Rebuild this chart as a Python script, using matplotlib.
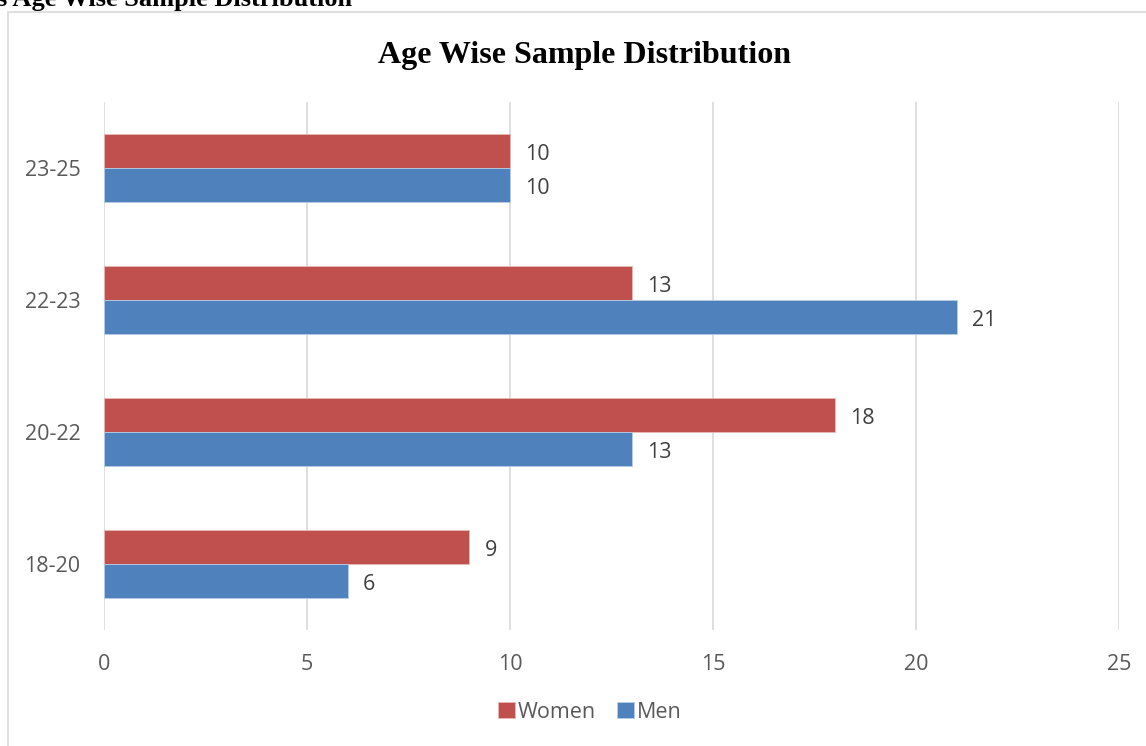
import numpy as np
import matplotlib.pyplot as plt
from matplotlib.patches import Rectangle

# Data
age_groups = ['18-20', '20-22', '22-23', '23-25']
women = [9, 18, 13, 10]
men = [6, 13, 21, 10]

RED = '#C0504D'
BLUE = '#4F81BD'
GRID = '#D9D9D9'
TXT = '#595959'

W, H = 1146, 746
fig = plt.figure(figsize=(W / 100, H / 100), dpi=100)
fig.patch.set_facecolor('white')

# chart frame (left + top border only visible)
fig.add_artist(Rectangle((8 / W, -0.1), 1.2, (H - 12) / H + 0.1, transform=fig.transFigure,
                         fill=False, edgecolor='#D9D9D9', linewidth=1.2))

# cut-off caption at the very top
fig.text(-3 / W, 1 - 6 / H, 's Age Wise Sample Distribution', ha='left', va='baseline',
         fontsize=19, fontweight='bold', family='Liberation Serif', color='black')

ax = fig.add_axes([104 / W, (H - 630) / H, (1119 - 104) / W, (630 - 102) / H])

y = np.arange(len(age_groups))
h = 0.26
b_w = ax.barh(y + h / 2, women, height=h, color=RED, edgecolor='#E6B9B8', linewidth=0.6, label='Women', zorder=3)
b_m = ax.barh(y - h / 2, men, height=h, color=BLUE, edgecolor='#B9CDE5', linewidth=0.6, label='Men', zorder=3)

for bars, vals in ((b_w, women), (b_m, men)):
    for rect, v in zip(bars, vals):
        ax.text(v + 0.38, rect.get_y() + rect.get_height() / 2 - 0.025, str(v), ha='left', va='center',
                fontsize=15.5, family='Open Sans', color='#404040')

ax.set_xlim(0, 25)
ax.set_ylim(-0.5, 3.5)
ax.set_xticks(range(0, 26, 5))
ax.set_yticks(y)
ax.set_yticklabels(age_groups)
ax.xaxis.grid(True, color=GRID, linewidth=1.2, zorder=0)
ax.yaxis.grid(False)
for s in ax.spines.values():
    s.set_visible(False)
ax.tick_params(axis='both', length=0, labelsize=15.5, labelcolor=TXT)
ax.tick_params(axis='x', pad=17)
ax.tick_params(axis='y', pad=17)
for lbl in ax.get_xticklabels() + ax.get_yticklabels():
    lbl.set_family('Open Sans')

fig.text(584 / W, 1 - 55 / H, 'Age Wise Sample Distribution', ha='center', va='center',
         fontsize=23, fontweight='bold', family='Liberation Serif', color='black')

leg = fig.legend(handles=[b_w, b_m], labels=['Women', 'Men'], loc='center',
                 bbox_to_anchor=(590 / W, 1 - 712 / H), ncol=2, frameon=False,
                 prop={'family': 'Open Sans', 'size': 15.5}, handlelength=0.75, handleheight=0.75,
                 handletextpad=0.15, columnspacing=1.0)
for t in leg.get_texts():
    t.set_color(TXT)

fig.savefig('out.png', dpi=100)
